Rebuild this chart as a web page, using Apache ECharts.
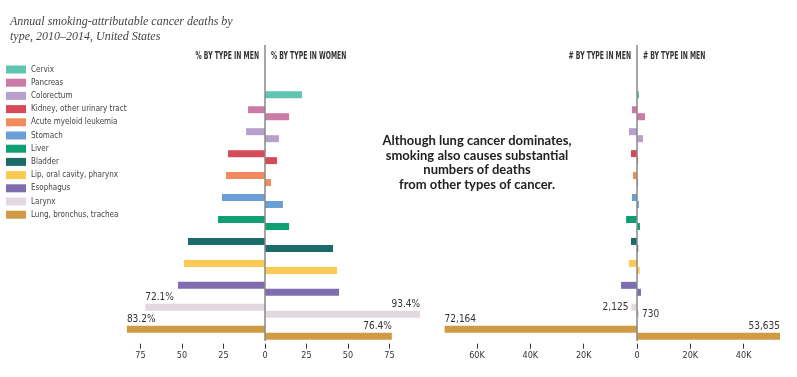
<!DOCTYPE html>
<html>
<head>
<meta charset="utf-8">
<script src="https://cdn.jsdelivr.net/npm/echarts@6/dist/echarts.min.js"></script>
<style>
  html, body { margin: 0; padding: 0; background: #fff; }
  #main { width: 797px; height: 377px; }
</style>
</head>
<body>
<div id="main"></div>
<script>
// cancer types, top to bottom
const types = ['Cervix', 'Pancreas', 'Colorectum', 'Kidney, other urinary tract', 'Acute myeloid leukemia',
    'Stomach', 'Liver', 'Bladder', 'Lip, oral cavity, pharynx', 'Esophagus', 'Larynx', 'Lung, bronchus, trachea'];
const colors = ['#5fc4b0', '#c97ba5', '#b8a0cc', '#d64b5a', '#f18a5c', '#6a9fd6',
    '#0e9f72', '#1c6b6b', '#fdc955', '#7f6db0', '#e4d8e0', '#d19a44'];

// % of deaths attributable to smoking
const pctMen   = [null, 10.2, 11.4, 22.3, 23.5, 25.9, 28.3, 46.4, 48.8, 52.4, 72.1, 83.2];
const pctWomen = [22.3, 14.5, 8.4, 7.2, 3.6, 10.8, 14.5, 41.0, 43.4, 44.6, 93.4, 76.4];

// number of deaths attributable to smoking
const numMen   = [null, 1900, 3000, 2250, 1500, 1900, 4100, 2250, 3000, 6000, 2125, 72164];
const numWomen = [750, 3000, 2250, 400, 400, 700, 1100, 450, 1000, 1500, 730, 53635];

// which rows get a value label
const labelled = [10, 11];

const pctTicks = [-75, -50, -25, 0, 25, 50, 75];
const numTicks = [-60000, -40000, -20000, 0, 20000, 40000];

const COND = "'Liberation Sans Narrow', 'DejaVu Sans Condensed', 'Roboto Condensed', sans-serif";

function pctFmt(v) { return Math.abs(v).toFixed(1) + '%'; }
function numFmt(v) { return Math.abs(v).toLocaleString('en-US'); }

function labelFor(chart, side, row) {
    let base = { show: true, fontFamily: COND, fontSize: 10, color: '#333' };
    if (chart === 1 && row === 10) {
        // small bars: label beside the bar
        base.position = side === 'm' ? 'left' : 'right';
        base.distance = 3;
        return base;
    }
    base.verticalAlign = 'bottom';
    if (side === 'm') {
        base.position = [0, -1];
        base.align = 'left';
    } else {
        base.position = ['100%', -1];
        base.align = 'right';
    }
    return base;
}

function makeSeries(chart, side, vals, fmt) {
    return types.map((t, i) => ({
        name: t,
        type: 'bar',
        xAxisIndex: chart,
        yAxisIndex: chart,
        stack: side + chart,
        barWidth: 7,
        barGap: '0%',
        color: colors[i],
        silent: true,
        data: types.map((_, j) => {
            if (j !== i || vals[j] == null) return '-';
            let v = side === 'm' ? -vals[j] : vals[j];
            if (labelled.indexOf(j) >= 0) {
                return { value: v, label: Object.assign(labelFor(chart, side, j), { formatter: p => fmt(p.value) }) };
            }
            return v;
        })
    }));
}

function xAxisFor(idx, min, max, ticks, fmt) {
    return {
        type: 'value', gridIndex: idx, min: min, max: max,
        axisLine: { show: false },
        splitLine: { show: false },
        axisTick: { show: true, customValues: ticks, length: 5, lineStyle: { color: '#333', width: 1 } },
        axisLabel: { customValues: ticks, formatter: fmt, fontFamily: COND, fontSize: 9, color: '#333', margin: 7 }
    };
}

let chart = echarts.init(document.getElementById('main'));
let option = {
    animation: false,
    title: {
        text: 'Annual smoking-attributable cancer deaths by\ntype, 2010–2014, United States',
        left: 5, top: 9,
        textStyle: { fontFamily: "'Liberation Serif', serif", fontStyle: 'italic', fontWeight: 'normal',
            fontSize: 12, color: '#444', lineHeight: 15 }
    },
    legend: {
        orient: 'vertical', left: 6, top: 65.5, padding: 0,
        itemWidth: 20, itemHeight: 8, itemGap: 5.2, icon: 'rect',
        selectedMode: false,
        data: types,
        textStyle: { fontFamily: COND, fontSize: 8, color: '#444' }
    },
    grid: [
        { left: 99, width: 332, top: 80.3, height: 263.4, outerBoundsMode: 'none' },
        { left: 423.7, width: 373.3, top: 80.3, height: 263.4, outerBoundsMode: 'none' }
    ],
    xAxis: [
        xAxisFor(0, -100, 100, pctTicks, v => String(Math.abs(v))),
        xAxisFor(1, -80000, 60000, numTicks, v => v === 0 ? '0' : Math.abs(v) / 1000 + 'K')
    ],
    yAxis: [
        { type: 'category', gridIndex: 0, data: types, inverse: true, show: false },
        { type: 'category', gridIndex: 1, data: types, inverse: true, show: false }
    ],
    series: [].concat(
        makeSeries(0, 'm', pctMen, pctFmt),
        makeSeries(0, 'w', pctWomen, pctFmt),
        makeSeries(1, 'm', numMen, numFmt),
        makeSeries(1, 'w', numWomen, numFmt)
    )
};
chart.setOption(option);

// center dividers, headers and note
let x0 = chart.convertToPixel({ xAxisIndex: 0 }, 0);
let x1 = chart.convertToPixel({ xAxisIndex: 1 }, 0);
let headStyle = { fontFamily: COND, fontSize: 10, fontWeight: 'bold', fill: '#333', textVerticalAlign: 'middle' };
function divider(x) {
    return { type: 'line', shape: { x1: x, y1: 45, x2: x, y2: 341 }, style: { stroke: '#888', lineWidth: 1.5 }, z: 10 };
}
function head(x, text, align) {
    // condensed look: squeeze the text horizontally around its anchor
    return { type: 'text', x: x, y: 56, scaleX: 0.68, style: Object.assign({ text: text, textAlign: align }, headStyle) };
}
chart.setOption({
    graphic: [
        divider(x0), divider(x1),
        head(x0 - 6, '% BY TYPE IN MEN', 'right'),
        head(x0 + 6, '% BY TYPE IN WOMEN', 'left'),
        head(x1 - 6, '# BY TYPE IN MEN', 'right'),
        head(x1 + 6, '# BY TYPE IN MEN', 'left'),
        {
            type: 'text', x: 477, y: 134,
            style: {
                text: 'Although lung cancer dominates,\nsmoking also causes substantial\nnumbers of deaths\nfrom other types of cancer.',
                textAlign: 'center', fontFamily: 'Lato, sans-serif', fontWeight: 'bold',
                fontSize: 13, lineHeight: 14.5, fill: '#222'
            }
        }
    ]
});
</script>
</body>
</html>
